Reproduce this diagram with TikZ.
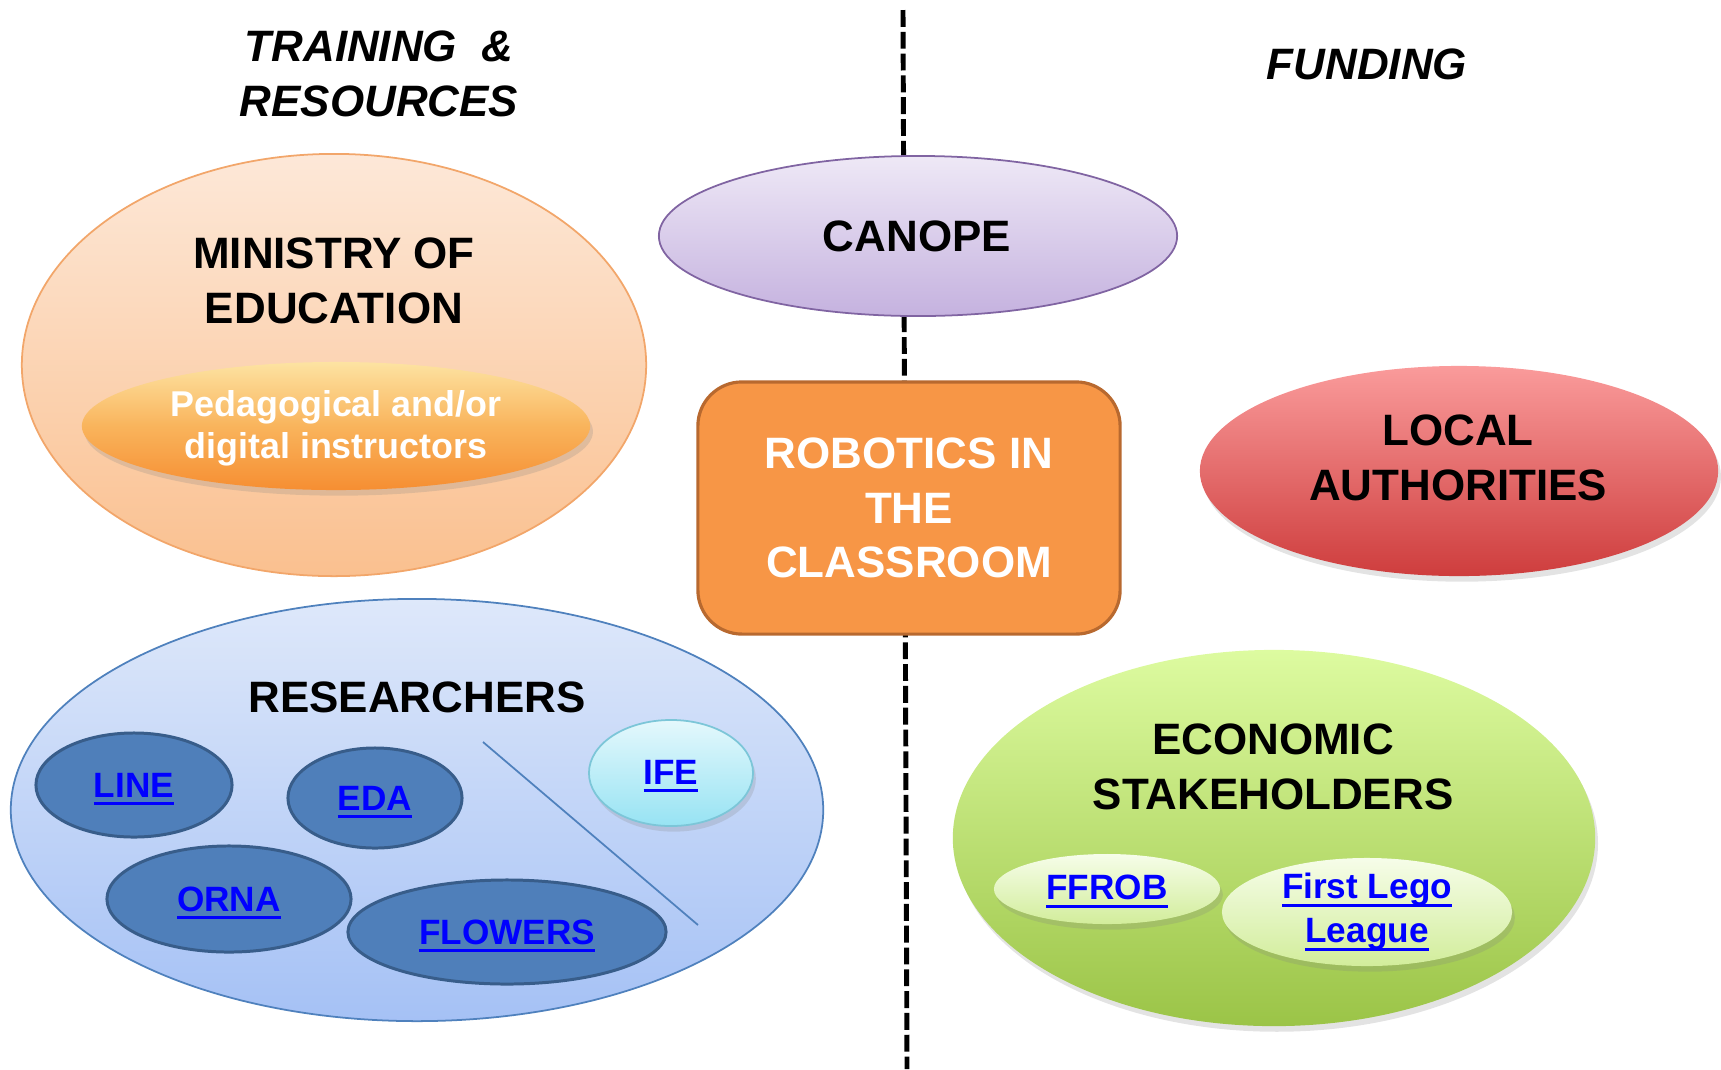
\documentclass[tikz,border=0pt]{standalone}
\usepackage{fontspec}
\setmainfont{Liberation Sans}
\usetikzlibrary{shapes.geometric,shadows}

\definecolor{linkblue}{HTML}{0000FF}
\definecolor{peachtop}{HTML}{FDE8D8}
\definecolor{peachbot}{HTML}{FAC08F}
\definecolor{peachline}{HTML}{F2A66A}
\definecolor{pedtop}{HTML}{FDE3A2}
\definecolor{pedmid}{HTML}{F9B45C}
\definecolor{pedbot}{HTML}{F68E32}
\definecolor{lavtop}{HTML}{EEE8F6}
\definecolor{lavbot}{HTML}{C5B2DF}
\definecolor{lavline}{HTML}{8064A2}
\definecolor{boxfill}{HTML}{F79646}
\definecolor{boxline}{HTML}{B8692F}
\definecolor{redtop}{HTML}{FA9B9B}
\definecolor{redbot}{HTML}{CE3D3D}
\definecolor{bluetop}{HTML}{DEE8FA}
\definecolor{bluebot}{HTML}{A5C1F5}
\definecolor{blueline}{HTML}{4F81BD}
\definecolor{labfill}{HTML}{4F7FBA}
\definecolor{labline}{HTML}{385D8A}
\definecolor{cyantop}{HTML}{E4F8FC}
\definecolor{cyanbot}{HTML}{97E3F3}
\definecolor{cyanline}{HTML}{7CC6D8}
\definecolor{greentop}{HTML}{DDFBA0}
\definecolor{greenbot}{HTML}{9BC447}
\definecolor{palegtop}{HTML}{F6FDE9}
\definecolor{palegbot}{HTML}{D2ED9B}

% underlined link text with a firm rule
\newcommand\lnk[1]{{\sbox0{#1}\rlap{\usebox0}\raisebox{-2.3pt}{\rule{\wd0}{0.9pt}}}}

\begin{document}
\begin{tikzpicture}[x=0.01cm,y=-0.01cm,
  every node/.style={inner sep=0pt,outer sep=0pt},
  oval/.style={ellipse},
  softshadow/.style={drop shadow={shadow xshift=0.8pt,shadow yshift=-1.6pt,opacity=0.22}},
  bigtxt/.style={font=\bfseries\fontsize{12.5}{15.5}\selectfont,align=center},
  headtxt/.style={font=\bfseries\itshape\fontsize{12.5}{15.5}\selectfont,align=center},
  linktxt/.style={font=\bfseries\fontsize{10}{12.5}\selectfont,text=linkblue,align=center},
  labeloval/.style={oval,fill=labfill,draw=labline,line width=0.85pt},
  paleoval/.style={oval,top color=palegtop,bottom color=palegbot,softshadow},
  divider/.style={line width=1.4pt,dash pattern=on 4.8pt off 1.4pt}
]
\useasboundingbox (0,0) rectangle (1721,1069);

% vertical divider between the two halves
\coordinate (divtop) at (903,10);
\coordinate (divbot) at (907,1069);
\draw[divider] (divtop) -- (divbot);

% column headings
\node[headtxt] (headleft) at (379,74) {TRAINING \ \&\\RESOURCES};
\node[headtxt] (headright) at (1367,64) {FUNDING};

% ministry of education
\node[oval,minimum width=6.24cm,minimum height=4.22cm,
      top color=peachtop,bottom color=peachbot,draw=peachline,line width=0.5pt] (ministry) at (334,365) {};
\node[bigtxt] (ministrytxt) at (334,281) {MINISTRY OF\\EDUCATION};
\node[oval,minimum width=5.08cm,minimum height=1.28cm,
      top color=pedtop,bottom color=pedbot,middle color=pedmid,softshadow] (instructors) at (336,426) {};
\node[font=\bfseries\fontsize{10.2}{12}\selectfont,text=white,align=center] (instructorstxt) at (336,428)
  {Pedagogical and/or\\digital instructors};

% canope
\node[oval,minimum width=5.18cm,minimum height=1.60cm,
      top color=lavtop,bottom color=lavbot,draw=lavline,line width=0.5pt] (canope) at (918,236) {};
\node[bigtxt] (canopetxt) at (917,236) {CANOPE};

% central box
\node[rectangle,rounded corners=0.44cm,minimum width=4.22cm,minimum height=2.52cm,
      fill=boxfill,draw=boxline,line width=0.9pt] (robotics) at (909,508) {};
\node[bigtxt,text=white] (roboticstxt) at (909,508) {ROBOTICS IN\\THE\\CLASSROOM};

% local authorities
\node[oval,minimum width=5.18cm,minimum height=2.10cm,
      top color=redtop,bottom color=redbot,softshadow] (local) at (1459,471) {};
\node[bigtxt] (localtxt) at (1458,458) {LOCAL\\AUTHORITIES};

% researchers
\node[oval,minimum width=8.12cm,minimum height=4.22cm,
      top color=bluetop,bottom color=bluebot,draw=blueline,line width=0.5pt] (researchers) at (417,810) {};
\node[bigtxt] (researcherstxt) at (417,697) {RESEARCHERS};
\node[labeloval,minimum width=1.96cm,minimum height=1.04cm] (line) at (134,785) {};
\node[linktxt] at ([yshift=-0.04cm]line.center) {\lnk{LINE}};
\node[labeloval,minimum width=1.74cm,minimum height=1.00cm] (eda) at (375,798) {};
\node[linktxt] at ([yshift=-0.04cm]eda.center) {\lnk{EDA}};
\node[labeloval,minimum width=2.44cm,minimum height=1.06cm] (orna) at (229,899) {};
\node[linktxt] at ([yshift=-0.04cm]orna.center) {\lnk{ORNA}};
\node[labeloval,minimum width=3.18cm,minimum height=1.04cm] (flowers) at (507,932) {};
\node[linktxt] at ([yshift=-0.04cm]flowers.center) {\lnk{FLOWERS}};
\node[oval,minimum width=1.64cm,minimum height=1.06cm,
      top color=cyantop,bottom color=cyanbot,draw=cyanline,line width=0.5pt,softshadow] (ife) at (671,773) {};
\node[linktxt] at ([yshift=-0.03cm]ife.center) {\lnk{IFE}};
\coordinate (sepa) at (483,742);
\coordinate (sepb) at (698,925);
\draw[blueline,line width=0.5pt] (sepa) -- (sepb);

% economic stakeholders
\node[oval,minimum width=6.42cm,minimum height=3.76cm,
      top color=greentop,bottom color=greenbot,softshadow] (economic) at (1274,838) {};
\node[bigtxt] (economictxt) at (1273,767) {ECONOMIC\\STAKEHOLDERS};
\node[paleoval,minimum width=2.26cm,minimum height=0.70cm] (ffrob) at (1107,889) {};
\node[linktxt] at ([yshift=-0.025cm]ffrob.center) {\lnk{FFROB}};
\node[paleoval,minimum width=2.90cm,minimum height=1.08cm] (fll) at (1367,912) {};
\node[linktxt] at (1367,912) {\lnk{First Lego}\\\lnk{League}};
\end{tikzpicture}
\end{document}
